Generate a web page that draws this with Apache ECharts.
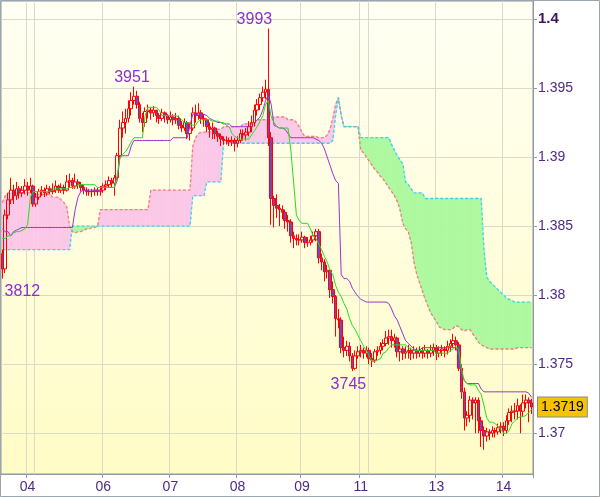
<!DOCTYPE html>
<html><head><meta charset="utf-8">
<script src="https://cdn.jsdelivr.net/npm/echarts@6/dist/echarts.min.js"></script>
<style>html,body{margin:0;padding:0;background:#fff}#c{width:600px;height:497px}</style>
</head><body><div id="c"></div>
<script>
// ---- data (hourly bars) ----
const dayNames = ['03','04','05','06','07','08','09','11','12','13','14'];
const dayStart = [0, 9, 12, 36, 60, 84, 107, 128, 131, 155, 179];
const hiddenDays = ['03','05','12'];

const open = [
1.3830,1.3819,1.3858,1.3869,1.3876,1.3872,1.3877,1.3874,1.3876,1.3879,
1.3876,1.3879,1.3866,1.3871,1.3875,1.3876,1.3874,1.3877,1.3875,1.3876,
1.3879,1.3876,1.3878,1.3876,1.3882,1.3883,1.3879,1.3882,1.3880,1.3878,
1.3876,1.3875,1.3875,1.3875,1.3876,1.3875,1.3876,1.3879,1.3880,1.3883,
1.3881,1.3885,1.3901,1.3921,1.3925,1.3928,1.3935,1.3941,1.3944,1.3938,
1.3928,1.3925,1.3933,1.3934,1.3932,1.3934,1.3930,1.3928,1.3932,1.3930,
1.3927,1.3929,1.3927,1.3928,1.3923,1.3921,1.3925,1.3917,1.3921,1.3932,
1.3930,1.3932,1.3928,1.3927,1.3922,1.3920,1.3921,1.3917,1.3915,1.3913,
1.3912,1.3912,1.3911,1.3912,1.3910,1.3912,1.3917,1.3916,1.3918,1.3922,
1.3925,1.3934,1.3938,1.3943,1.3947,1.3949,1.3914,1.3870,1.3865,1.3863,
1.3862,1.3860,1.3854,1.3853,1.3843,1.3841,1.3840,1.3840,1.3842,1.3838,
1.3838,1.3840,1.3843,1.3846,1.3827,1.3824,1.3817,1.3818,1.3804,1.3799,
1.3783,1.3782,1.3762,1.3760,1.3763,1.3756,1.3747,1.3756,1.3759,1.3760,
1.3758,1.3760,1.3754,1.3753,1.3759,1.3760,1.3763,1.3765,1.3769,1.3770,
1.3767,1.3769,1.3759,1.3761,1.3758,1.3759,1.3760,1.3758,1.3760,1.3758,
1.3760,1.3758,1.3760,1.3758,1.3760,1.3762,1.3758,1.3760,1.3761,1.3760,
1.3763,1.3765,1.3767,1.3764,1.3747,1.3730,1.3711,1.3713,1.3724,1.3722,
1.3724,1.3709,1.3702,1.3698,1.3701,1.3700,1.3702,1.3701,1.3704,1.3705,
1.3702,1.3709,1.3715,1.3716,1.3716,1.3720,1.3716,1.3722,1.3724,1.3722];

const high = [
1.3833,1.3862,1.3874,1.3885,1.3880,1.3882,1.3879,1.3879,1.3884,1.3882,
1.3885,1.3880,1.3874,1.3877,1.3879,1.3878,1.3880,1.3879,1.3881,1.3883,
1.3880,1.3881,1.3880,1.3887,1.3888,1.3885,1.3888,1.3884,1.3882,1.3880,
1.3878,1.3877,1.3877,1.3878,1.3878,1.3879,1.3881,1.3883,1.3886,1.3885,
1.3887,1.3903,1.3927,1.3933,1.3935,1.3941,1.3947,1.3951,1.3948,1.3940,
1.3932,1.3936,1.3938,1.3936,1.3937,1.3934,1.3932,1.3935,1.3933,1.3931,
1.3933,1.3931,1.3932,1.3930,1.3926,1.3928,1.3926,1.3925,1.3936,1.3938,
1.3939,1.3934,1.3931,1.3928,1.3925,1.3925,1.3922,1.3919,1.3917,1.3915,
1.3915,1.3914,1.3915,1.3914,1.3915,1.3920,1.3920,1.3921,1.3926,1.3930,
1.3938,1.3942,1.3946,1.3951,1.3956,1.3993,1.3918,1.3872,1.3873,1.3866,
1.3865,1.3862,1.3858,1.3855,1.3846,1.3844,1.3844,1.3846,1.3843,1.3842,
1.3843,1.3846,1.3848,1.3848,1.3830,1.3826,1.3822,1.3818,1.3810,1.3800,
1.3790,1.3784,1.3770,1.3767,1.3766,1.3758,1.3760,1.3763,1.3764,1.3762,
1.3763,1.3762,1.3758,1.3761,1.3763,1.3766,1.3768,1.3774,1.3775,1.3775,
1.3772,1.3770,1.3766,1.3763,1.3763,1.3764,1.3762,1.3763,1.3762,1.3763,
1.3762,1.3764,1.3761,1.3764,1.3765,1.3764,1.3763,1.3764,1.3763,1.3767,
1.3768,1.3772,1.3770,1.3766,1.3750,1.3733,1.3716,1.3727,1.3726,1.3726,
1.3726,1.3712,1.3705,1.3704,1.3703,1.3705,1.3704,1.3707,1.3708,1.3708,
1.3713,1.3718,1.3720,1.3722,1.3725,1.3721,1.3728,1.3728,1.3726,1.3725];

const low = [
1.3812,1.3816,1.3855,1.3866,1.3866,1.3869,1.3870,1.3871,1.3873,1.3872,
1.3874,1.3864,1.3864,1.3869,1.3872,1.3871,1.3872,1.3873,1.3873,1.3874,
1.3874,1.3874,1.3873,1.3875,1.3878,1.3877,1.3877,1.3877,1.3875,1.3873,
1.3872,1.3872,1.3871,1.3872,1.3872,1.3872,1.3874,1.3876,1.3878,1.3878,
1.3872,1.3883,1.3898,1.3914,1.3917,1.3925,1.3930,1.3938,1.3935,1.3925,
1.3918,1.3922,1.3928,1.3927,1.3929,1.3925,1.3924,1.3926,1.3925,1.3924,
1.3925,1.3923,1.3924,1.3920,1.3918,1.3919,1.3913,1.3912,1.3919,1.3925,
1.3927,1.3924,1.3922,1.3918,1.3914,1.3913,1.3913,1.3911,1.3908,1.3909,
1.3909,1.3908,1.3908,1.3904,1.3907,1.3910,1.3912,1.3912,1.3915,1.3918,
1.3922,1.3930,1.3934,1.3940,1.3942,1.3908,1.3851,1.3849,1.3856,1.3850,
1.3855,1.3848,1.3846,1.3838,1.3834,1.3836,1.3836,1.3838,1.3834,1.3835,
1.3836,1.3838,1.3839,1.3823,1.3818,1.3810,1.3812,1.3798,1.3794,1.3770,
1.3776,1.3758,1.3755,1.3756,1.3752,1.3745,1.3746,1.3754,1.3755,1.3754,
1.3755,1.3750,1.3748,1.3751,1.3756,1.3757,1.3760,1.3763,1.3764,1.3762,
1.3762,1.3755,1.3752,1.3753,1.3754,1.3754,1.3753,1.3754,1.3754,1.3755,
1.3754,1.3755,1.3754,1.3755,1.3756,1.3753,1.3755,1.3756,1.3755,1.3757,
1.3759,1.3762,1.3760,1.3745,1.3725,1.3702,1.3705,1.3708,1.3710,1.3700,
1.3700,1.3690,1.3688,1.3694,1.3695,1.3697,1.3697,1.3699,1.3700,1.3698,
1.3700,1.3706,1.3708,1.3710,1.3710,1.3700,1.3712,1.3718,1.3708,1.3714];

const close = [
1.3819,1.3858,1.3869,1.3876,1.3872,1.3877,1.3874,1.3876,1.3879,1.3876,
1.3879,1.3866,1.3871,1.3875,1.3876,1.3874,1.3877,1.3875,1.3876,1.3879,
1.3876,1.3878,1.3876,1.3882,1.3883,1.3879,1.3882,1.3880,1.3878,1.3876,
1.3875,1.3875,1.3875,1.3876,1.3875,1.3876,1.3879,1.3880,1.3883,1.3881,
1.3885,1.3901,1.3921,1.3925,1.3928,1.3935,1.3941,1.3944,1.3938,1.3928,
1.3925,1.3933,1.3934,1.3932,1.3934,1.3930,1.3928,1.3932,1.3930,1.3927,
1.3929,1.3927,1.3928,1.3923,1.3921,1.3925,1.3917,1.3921,1.3932,1.3930,
1.3932,1.3928,1.3927,1.3922,1.3920,1.3921,1.3917,1.3915,1.3913,1.3912,
1.3912,1.3911,1.3912,1.3910,1.3912,1.3917,1.3916,1.3918,1.3922,1.3925,
1.3934,1.3938,1.3943,1.3947,1.3949,1.3914,1.3870,1.3865,1.3863,1.3862,
1.3860,1.3854,1.3853,1.3843,1.3841,1.3840,1.3840,1.3842,1.3838,1.3838,
1.3840,1.3843,1.3846,1.3827,1.3824,1.3817,1.3818,1.3804,1.3799,1.3783,
1.3782,1.3762,1.3760,1.3763,1.3756,1.3747,1.3756,1.3759,1.3760,1.3758,
1.3760,1.3754,1.3753,1.3759,1.3760,1.3763,1.3765,1.3769,1.3770,1.3767,
1.3769,1.3759,1.3761,1.3758,1.3759,1.3760,1.3758,1.3760,1.3758,1.3760,
1.3758,1.3760,1.3758,1.3760,1.3762,1.3758,1.3760,1.3761,1.3760,1.3763,
1.3765,1.3767,1.3764,1.3747,1.3730,1.3711,1.3713,1.3724,1.3722,1.3724,
1.3709,1.3702,1.3698,1.3701,1.3700,1.3702,1.3701,1.3704,1.3705,1.3702,
1.3709,1.3715,1.3716,1.3716,1.3720,1.3716,1.3722,1.3724,1.3722,1.3719];

const tenkan = [
1.3841,1.3841,1.3843,1.3843,1.3845,1.3846,1.3846,1.3847,1.3848,1.3851,
1.3871,1.3875,1.3875,1.3875,1.3875,1.3875,1.3875,1.3875,1.3877,1.3877,
1.3877,1.3877,1.3877,1.3877,1.3878,1.3878,1.3878,1.3880,1.3880,1.3880,
1.3880,1.3880,1.3880,1.3880,1.3878,1.3878,1.3878,1.3878,1.3878,1.3878,
1.3878,1.3887,1.3900,1.3902,1.3904,1.3907,1.3911,1.3914,1.3914,1.3914,
1.3914,1.3930,1.3936,1.3936,1.3936,1.3936,1.3934,1.3930,1.3930,1.3930,
1.3930,1.3930,1.3930,1.3929,1.3927,1.3925,1.3925,1.3924,1.3923,1.3923,
1.3926,1.3927,1.3927,1.3927,1.3927,1.3926,1.3926,1.3926,1.3925,1.3925,
1.3923,1.3922,1.3917,1.3915,1.3914,1.3913,1.3913,1.3913,1.3913,1.3916,
1.3919,1.3922,1.3926,1.3930,1.3938,1.3941,1.3929,1.3925,1.3922,1.3921,
1.3921,1.3921,1.3921,1.3905,1.3882,1.3858,1.3854,1.3852,1.3852,1.3852,
1.3848,1.3843,1.3841,1.3837,1.3833,1.3828,1.3824,1.3818,1.3815,1.3807,
1.3802,1.3799,1.3794,1.3790,1.3783,1.3778,1.3775,1.3771,1.3767,1.3763,
1.3760,1.3756,1.3752,1.3752,1.3753,1.3754,1.3758,1.3759,1.3762,1.3764,
1.3764,1.3764,1.3764,1.3764,1.3764,1.3762,1.3761,1.3760,1.3760,1.3760,
1.3760,1.3760,1.3760,1.3760,1.3760,1.3758,1.3758,1.3758,1.3758,1.3758,
1.3760,1.3761,1.3763,1.3760,1.3746,1.3738,1.3736,1.3735,1.3735,1.3735,
1.3731,1.3728,1.3720,1.3711,1.3708,1.3708,1.3707,1.3705,1.3703,1.3700,
1.3700,1.3702,1.3707,1.3709,1.3711,1.3712,1.3712,1.3713,1.3715,1.3717];

const kijun = [
1.3848,1.3846,1.3846,1.3843,1.3846,1.3847,1.3848,1.3849,1.3849,1.3849,
1.3849,1.3849,1.3849,1.3849,1.3849,1.3849,1.3849,1.3849,1.3849,1.3849,
1.3849,1.3849,1.3849,1.3849,1.3849,1.3849,1.3862,1.3871,1.3875,1.3876,
1.3876,1.3876,1.3876,1.3876,1.3876,1.3876,1.3878,1.3878,1.3878,1.3878,
1.3878,1.3883,1.3900,1.3901,1.3901,1.3901,1.3908,1.3912,1.3912,1.3912,
1.3912,1.3912,1.3912,1.3912,1.3912,1.3912,1.3912,1.3912,1.3912,1.3912,
1.3912,1.3914,1.3914,1.3914,1.3914,1.3914,1.3914,1.3923,1.3931,1.3931,
1.3931,1.3931,1.3931,1.3930,1.3928,1.3927,1.3926,1.3925,1.3925,1.3924,
1.3924,1.3924,1.3922,1.3922,1.3922,1.3922,1.3922,1.3922,1.3922,1.3924,
1.3925,1.3927,1.3929,1.3934,1.3941,1.3945,1.3938,1.3923,1.3922,1.3921,
1.3921,1.3920,1.3917,1.3914,1.3914,1.3914,1.3914,1.3914,1.3914,1.3914,
1.3914,1.3914,1.3913,1.3912,1.3910,1.3906,1.3900,1.3894,1.3888,1.3883,
1.3881,1.3815,1.3812,1.3812,1.3810,1.3805,1.3802,1.3799,1.3797,1.3796,
1.3795,1.3795,1.3795,1.3795,1.3795,1.3795,1.3795,1.3795,1.3794,1.3790,
1.3785,1.3782,1.3777,1.3772,1.3767,1.3765,1.3763,1.3761,1.3760,1.3760,
1.3762,1.3762,1.3762,1.3762,1.3762,1.3762,1.3762,1.3762,1.3762,1.3762,
1.3762,1.3762,1.3762,1.3756,1.3742,1.3738,1.3736,1.3736,1.3736,1.3736,
1.3736,1.3732,1.3730,1.3730,1.3730,1.3730,1.3730,1.3730,1.3730,1.3730,
1.3730,1.3730,1.3730,1.3730,1.3730,1.3730,1.3730,1.3730,1.3729,1.3726];

const senkouA = [
1.3867,1.3872,1.3874,1.3874,1.3874,1.3874,1.3874,1.3874,1.3874,1.3874,
1.3874,1.3873,1.3873,1.3873,1.3873,1.3873,1.3873,1.3873,1.3871,1.3871,
1.3871,1.3869,1.3867,1.3864,1.3850,1.3846,1.3845,1.3846,1.3846,1.3847,
1.3848,1.3848,1.3849,1.3849,1.3850,1.3862,1.3862,1.3862,1.3862,1.3862,
1.3862,1.3862,1.3862,1.3862,1.3862,1.3862,1.3862,1.3862,1.3862,1.3862,
1.3862,1.3862,1.3862,1.3876,1.3876,1.3876,1.3876,1.3876,1.3876,1.3876,
1.3876,1.3876,1.3876,1.3876,1.3876,1.3876,1.3876,1.3876,1.3908,1.3914,
1.3917,1.3918,1.3918,1.3918,1.3918,1.3920,1.3920,1.3920,1.3920,1.3922,
1.3922,1.3922,1.3922,1.3922,1.3922,1.3922,1.3924,1.3924,1.3924,1.3924,
1.3924,1.3927,1.3927,1.3927,1.3927,1.3927,1.3927,1.3929,1.3929,1.3929,
1.3929,1.3929,1.3927,1.3927,1.3927,1.3925,1.3922,1.3918,1.3915,1.3915,
1.3915,1.3915,1.3915,1.3914,1.3914,1.3914,1.3916,1.3920,1.3928,1.3938,
1.3943,1.3930,1.3922,1.3922,1.3922,1.3922,1.3922,1.3922,1.3905,1.3903,
1.3900,1.3897,1.3894,1.3891,1.3889,1.3886,1.3884,1.3881,1.3878,1.3875,
1.3872,1.3868,1.3862,1.3852,1.3848,1.3846,1.3838,1.3824,1.3815,1.3809,
1.3803,1.3797,1.3792,1.3787,1.3784,1.3781,1.3777,1.3776,1.3775,1.3775,
1.3775,1.3776,1.3778,1.3777,1.3775,1.3774,1.3775,1.3775,1.3772,1.3769,
1.3766,1.3764,1.3763,1.3762,1.3761,1.3761,1.3761,1.3761,1.3761,1.3761,
1.3761,1.3761,1.3761,1.3761,1.3762,1.3762,1.3762,1.3762,1.3762,1.3762];

const senkouB = [
1.3833,1.3833,1.3833,1.3833,1.3833,1.3833,1.3833,1.3833,1.3833,1.3833,
1.3833,1.3833,1.3833,1.3833,1.3833,1.3833,1.3833,1.3833,1.3833,1.3833,
1.3833,1.3833,1.3833,1.3833,1.3833,1.3850,1.3850,1.3850,1.3850,1.3850,
1.3850,1.3850,1.3850,1.3850,1.3850,1.3850,1.3850,1.3850,1.3850,1.3850,
1.3850,1.3850,1.3850,1.3850,1.3850,1.3850,1.3850,1.3850,1.3850,1.3850,
1.3850,1.3850,1.3850,1.3850,1.3850,1.3850,1.3850,1.3850,1.3850,1.3850,
1.3850,1.3850,1.3850,1.3850,1.3850,1.3850,1.3850,1.3850,1.3872,1.3872,
1.3872,1.3872,1.3872,1.3882,1.3882,1.3882,1.3882,1.3882,1.3882,1.3910,
1.3910,1.3910,1.3910,1.3910,1.3910,1.3910,1.3910,1.3910,1.3910,1.3910,
1.3910,1.3910,1.3910,1.3910,1.3910,1.3910,1.3910,1.3910,1.3910,1.3910,
1.3910,1.3910,1.3910,1.3910,1.3910,1.3910,1.3910,1.3910,1.3910,1.3910,
1.3910,1.3910,1.3910,1.3910,1.3910,1.3910,1.3910,1.3910,1.3912,1.3930,
1.3943,1.3930,1.3922,1.3922,1.3922,1.3922,1.3922,1.3922,1.3914,1.3914,
1.3914,1.3914,1.3914,1.3914,1.3914,1.3914,1.3914,1.3914,1.3914,1.3909,
1.3905,1.3901,1.3898,1.3895,1.3882,1.3880,1.3877,1.3874,1.3874,1.3874,
1.3874,1.3870,1.3870,1.3870,1.3870,1.3870,1.3870,1.3870,1.3870,1.3870,
1.3870,1.3870,1.3870,1.3870,1.3870,1.3870,1.3870,1.3870,1.3870,1.3870,
1.3870,1.3870,1.3833,1.3813,1.3810,1.3808,1.3806,1.3804,1.3802,1.3800,
1.3798,1.3797,1.3796,1.3795,1.3795,1.3795,1.3795,1.3795,1.3795,1.3795];

const yTicks = [1.37, 1.375, 1.38, 1.385, 1.39, 1.395, 1.4];
const annotations = [
  { bar: 0, kind: 'low' },
  { bar: 47, kind: 'high' },
  { bar: 95, kind: 'high' },
  { bar: 125, kind: 'low' }
];

// ---- build ----
const categories = close.map((_, i) => {
  let k = 0;
  for (let j = 0; j < dayStart.length; j++) if (dayStart[j] <= i) k = j;
  return dayNames[k] + ':' + (i - dayStart[k]);
});
const dayOf = i => categories[i].split(':')[0];
const isDayStart = i => dayStart.indexOf(i) >= 0;
const showLabel = i => isDayStart(i) && hiddenDays.indexOf(dayOf(i)) < 0;

const candleData = close.map((c, i) => [open[i], c, low[i], high[i]]);
const cloudSegs = senkouA.slice(0, -1).map((a, i) => [i, a, senkouB[i], senkouA[i + 1], senkouB[i + 1]]);
const lastClose = close[close.length - 1];

const annotationOffsets = { 0: [20, 0], 47: [-2, 0], 95: [-14, 0], 125: [-4, 0] };

const PINK = '#fcc8e7', GREEN = '#aef8a0';
function renderCloud(params, api) {
  const i = api.value(0);
  const va0 = api.value(1), vb0 = api.value(2), va1 = api.value(3), vb1 = api.value(4);
  const a0 = api.coord([i, va0]), b0 = api.coord([i, vb0]);
  const a1 = api.coord([i + 1, va1]), b1 = api.coord([i + 1, vb1]);
  const d0 = va0 - vb0, d1 = va1 - vb1;
  const poly = (pts, fill) => ({ type: 'polygon', shape: { points: pts }, style: { fill: fill, stroke: fill, lineWidth: 0.6 } });
  if (d0 * d1 >= 0) {
    return poly([a0, a1, b1, b0], (d0 + d1) >= 0 ? PINK : GREEN);
  }
  const t = d0 / (d0 - d1);
  const c = [a0[0] + t * (a1[0] - a0[0]), a0[1] + t * (a1[1] - a0[1])];
  return { type: 'group', children: [poly([a0, c, b0], d0 > 0 ? PINK : GREEN), poly([c, a1, b1], d1 > 0 ? PINK : GREEN)] };
}

const chart = echarts.init(document.getElementById('c'), null, { renderer: 'canvas' });
const AXIS_GRAY = '#8d9aa5';
const GRID_COL = '#dadac6';
const LABEL_COL = '#4e2a84';
const option = {
  animation: false,
  textStyle: { fontFamily: 'Liberation Sans, Arial, sans-serif' },
  grid: {
    left: 1, top: 1, right: 67, bottom: 23, outerBoundsMode: 'none',
    show: true,
    backgroundColor: new echarts.graphic.LinearGradient(0, 0, 0, 1, [
      { offset: 0, color: '#fffff4' }, { offset: 1, color: '#fffcc6' }]),
    borderColor: AXIS_GRAY, borderWidth: 1
  },
  xAxis: {
    type: 'category', data: categories, boundaryGap: true,
    axisLine: { show: true, lineStyle: { color: AXIS_GRAY } },
    axisTick: { show: true, length: 4, interval: (i) => showLabel(i), lineStyle: { color: AXIS_GRAY } },
    axisLabel: { interval: (i) => showLabel(i), formatter: v => v.split(':')[0], color: LABEL_COL, fontSize: 14, margin: 6 },
    splitLine: { show: true, interval: (i) => isDayStart(i) && i > 0, lineStyle: { color: GRID_COL, width: 1 } }
  },
  yAxis: {
    type: 'value', position: 'right', min: 1.36705, max: 1.4013, scale: true,
    axisLine: { show: true, lineStyle: { color: AXIS_GRAY } },
    axisTick: { show: true, length: 4, customValues: yTicks, lineStyle: { color: AXIS_GRAY } },
    splitLine: { show: true, lineStyle: { color: GRID_COL, width: 1 } },
    axisLabel: {
      customValues: yTicks.concat([lastClose]), margin: 5, color: LABEL_COL, fontSize: 14,
      formatter: v => {
        if (Math.abs(v - lastClose) < 1e-9) return '{cur|' + v.toFixed(4) + '}';
        if (Math.abs(v - 1.4) < 1e-9) return '{top|1.4}';
        return String(+v.toFixed(4));
      },
      rich: {
        cur: { color: '#000', fontSize: 14, backgroundColor: '#f6c300', borderColor: '#8a8a8a', borderWidth: 1, padding: [3, 3, 2, 3] },
        top: { color: '#3d1466', fontSize: 15, fontWeight: 'bold' }
      }
    }
  },
  series: [
    { type: 'custom', name: 'cloud', data: cloudSegs, renderItem: renderCloud, encode: { x: 0, y: [1, 2, 3, 4] }, clip: true, z: 1, silent: true },
    { type: 'line', name: 'Senkou A', data: senkouA, showSymbol: false, z: 2, lineStyle: { color: '#f27c7c', width: 1.3, type: [3, 2] } },
    { type: 'line', name: 'Senkou B', data: senkouB, showSymbol: false, z: 2, lineStyle: { color: '#33d6f2', width: 1.3, type: [3, 2] } },
    {
      type: 'candlestick', name: 'price', data: candleData, barWidth: 3, z: 3,
      itemStyle: { color: 'rgba(255,255,255,0)', color0: '#7448b8', borderColor: '#ff0000', borderColor0: '#ff0000', borderWidth: 1 },
      markPoint: {
        symbol: 'circle', symbolSize: 0, silent: true,
        data: annotations.map(a => {
          const v = a.kind === 'high' ? high[a.bar] : low[a.bar];
          return {
            coord: [a.bar, v], value: v,
            label: { position: a.kind === 'high' ? 'top' : 'bottom', distance: a.kind === 'high' ? 1 : 5, offset: annotationOffsets[a.bar] }
          };
        }),
        label: { show: true, color: '#8a2fd6', fontSize: 16, formatter: p => String(Math.round(p.value * 10000) % 10000) }
      }
    },
    { type: 'line', name: 'Kijun', data: kijun, showSymbol: false, z: 4, lineStyle: { color: '#9933cc', width: 1 } },
    { type: 'line', name: 'Tenkan', data: tenkan, showSymbol: false, z: 4, lineStyle: { color: '#22dd22', width: 1 } }
  ],
  graphic: [{ type: 'rect', silent: true, z: 100, shape: { x: 0.5, y: 0.5, width: 599, height: 496 }, style: { fill: 'none', stroke: '#9aa5ae', lineWidth: 1 } }]
};
chart.setOption(option);
</script>
</body></html>
